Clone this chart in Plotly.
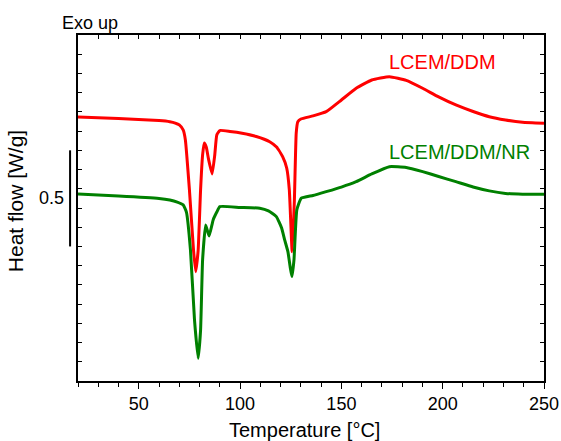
import plotly.graph_objects as go

# Temperature [°C] and heat flow [W/g] (arbitrary offset)
temp_red = [20, 40, 60, 65.3, 68, 70, 71.9, 73, 75, 77, 78.1, 79.3, 80.5, 81.5, 82.3, 83.3, 84.5,
            86.2, 87.5, 88.5, 90, 95, 101, 108, 114.6, 118, 121, 123, 124.3, 125.7, 126.8, 127.7,
            128.5, 130, 136, 142.5, 150, 157.3, 165, 173.7, 182, 190.1, 198, 206.5, 215, 223, 231,
            239.4, 250]
hf_red = [1.374, 1.366, 1.355, 1.349, 1.342, 1.332, 1.306, 1.254, 0.994, 0.682, 0.569, 0.68, 0.994,
          1.176, 1.238, 1.217, 1.150, 1.077, 1.176, 1.280, 1.303, 1.298, 1.289, 1.272, 1.245, 1.217,
          1.167, 1.108, 0.994, 0.673, 0.942, 1.290, 1.349, 1.363, 1.379, 1.401, 1.462, 1.523, 1.566,
          1.583, 1.564, 1.523, 1.478, 1.436, 1.402, 1.375, 1.358, 1.346, 1.341]

temp_green = [20, 40, 60, 65.3, 69, 71.9, 73.5, 75.5, 77.5, 79.3, 80.5, 81.5, 83, 84.7, 86.7, 88.5,
              90, 100, 109.7, 114, 117.9, 120.5, 122, 123.6, 124.8, 125.6, 126.6, 128, 130.2, 136,
              142.5, 150, 157.3, 165, 173.7, 182, 190.1, 198, 206.5, 215, 223, 231, 239.4, 250]
hf_green = [0.973, 0.963, 0.950, 0.942, 0.931, 0.916, 0.879, 0.682, 0.318, 0.118, 0.265, 0.630, 0.812,
            0.754, 0.838, 0.879, 0.907, 0.903, 0.899, 0.885, 0.855, 0.796, 0.734, 0.673, 0.588,
            0.543, 0.630, 0.890, 0.951, 0.965, 0.985, 1.009, 1.037, 1.077, 1.115, 1.111, 1.089,
            1.064, 1.037, 1.009, 0.989, 0.976, 0.972, 0.972]

x_ticks = [50, 100, 150, 200, 250]
x_range = [20, 250]
y_range = [0, 1.8]
scale_bar = [0.7, 1.2]   # 0.5 W/g scale bar
series_names = ["LCEM/DDM", "LCEM/DDM/NR"]
colors = ["#ff0000", "#008000"]

FONT = "Arial, Liberation Sans, sans-serif"

fig = go.Figure()
fig.add_trace(go.Scatter(x=temp_red, y=hf_red, mode="lines", name=series_names[0],
                         line=dict(color=colors[0], width=3, shape="spline", smoothing=0.4)))
fig.add_trace(go.Scatter(x=temp_green, y=hf_green, mode="lines", name=series_names[1],
                         line=dict(color=colors[1], width=3, shape="spline", smoothing=0.4)))
# invisible trace to activate mirrored axes
fig.add_trace(go.Scatter(x=x_range, y=y_range, xaxis="x2", yaxis="y2", mode="lines",
                         line=dict(width=0), hoverinfo="skip", showlegend=False, opacity=0))

fig.update_layout(
    width=561, height=441,
    margin=dict(l=78, r=17, t=35, b=60, autoexpand=False),
    paper_bgcolor="white", plot_bgcolor="white",
    showlegend=False,
    font=dict(family=FONT, size=18, color="black"),
    xaxis=dict(range=x_range, tickvals=x_ticks, ticks="outside", ticklen=6, tickwidth=1,
               tickcolor="black", showline=True, linecolor="black", linewidth=1.5,
               showgrid=False, zeroline=False, tickfont=dict(size=18), automargin=False,
               minor=dict(dtick=10, ticks="outside", ticklen=4, tickcolor="black", showgrid=False)),
    xaxis2=dict(range=x_range, overlaying="x", side="top", dtick=10, ticks="inside", ticklen=4,
                tickcolor="black", showticklabels=False, showline=True, linecolor="black",
                linewidth=1.5, showgrid=False, zeroline=False, automargin=False),
    yaxis=dict(range=y_range, dtick=0.1, ticks="inside", ticklen=4, tickcolor="black",
               showticklabels=False, showline=True, linecolor="black", linewidth=1.5,
               showgrid=False, zeroline=False, automargin=False),
    yaxis2=dict(range=y_range, overlaying="y", side="right", dtick=0.1, ticks="inside", ticklen=4,
                tickcolor="black", showticklabels=False, showline=True, linecolor="black",
                linewidth=1.5, showgrid=False, zeroline=False, automargin=False),
)

# scale bar
fig.add_shape(type="line", xref="paper", yref="y", x0=-0.017, x1=-0.017,
              y0=scale_bar[0], y1=scale_bar[1], line=dict(color="black", width=2))
fig.add_annotation(xref="paper", yref="y", x=-0.026, y=(scale_bar[0] + scale_bar[1]) / 2,
                   text="0.5", showarrow=False, xanchor="right", yanchor="middle",
                   font=dict(size=18))

# axis titles
fig.add_annotation(xref="paper", yref="paper", x=0.485, y=-0.105, text="Temperature [°C]",
                   showarrow=False, xanchor="center", yanchor="top", font=dict(size=20))
fig.add_annotation(xref="paper", yref="paper", x=-0.135, y=0.52, text="Heat flow [W/g]",
                   showarrow=False, textangle=-90, xanchor="center", yanchor="middle",
                   font=dict(size=21))
fig.add_annotation(xref="paper", yref="paper", x=-0.038, y=1.0, text="Exo up",
                   showarrow=False, xanchor="left", yanchor="bottom", font=dict(size=18))

# series labels
fig.add_annotation(x=199.7, y=1.658, text=series_names[0], showarrow=False,
                   font=dict(size=20, color=colors[0]))
fig.add_annotation(x=208.5, y=1.193, text=series_names[1], showarrow=False,
                   font=dict(size=20, color=colors[1]))

fig.write_html("out.html")
